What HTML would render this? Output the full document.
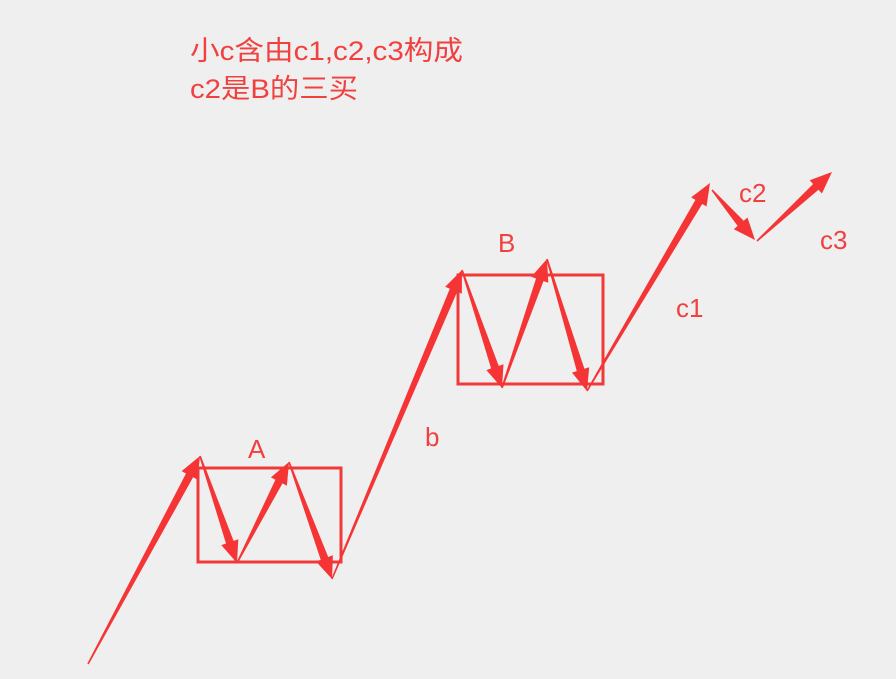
<!DOCTYPE html>
<html><head><meta charset="utf-8"><style>
html,body{margin:0;padding:0;background:#efefef;}
svg{display:block;}
text{font-family:"Liberation Sans","Noto Sans CJK SC",sans-serif;fill:#f0403f;}
</style></head><body>
<svg id="chart" width="896" height="679" viewBox="0 0 896 679">
<rect width="896" height="679" fill="#efefef"/>
<text x="190" y="60" font-size="27" textLength="273" lengthAdjust="spacingAndGlyphs">小c含由c1,c2,c3构成</text>
<text x="190" y="98" font-size="27" textLength="168" lengthAdjust="spacingAndGlyphs">c2是B的三买</text>
<rect x="198" y="468" width="143" height="94" fill="none" stroke="#f03a3a" stroke-width="3"/>
<rect x="458" y="275" width="145" height="109" fill="none" stroke="#f03a3a" stroke-width="3"/>
<g id="arrows"></g>
<text x="248" y="458" font-size="26">A</text>
<text x="498" y="252" font-size="26">B</text>
<text x="425" y="446" font-size="26">b</text>
<text x="676" y="317" font-size="26">c1</text>
<text x="739" y="202" font-size="26">c2</text>
<text x="820" y="249" font-size="26">c3</text>
</svg>
<script>
const segStartX=[88,200,237,289,332,462,502,547,587,712,757];
const segStartY=[664,456,563,462,579,270,388,259,391,190,241];
const segEndX=[200,237,289,332,462,502,547,587,710,755,832];
const segEndY=[456,563,462,579,270,388,259,391,183,240,172];
const segNames=['wave-lead-up','a-down-1','a-up','a-down-2','wave-b','b-down-1','b-up','b-down-2','wave-c1','wave-c2','wave-c3'];
const g=document.getElementById('arrows');
for(let i=0;i<segStartX.length;i++){
  const x0=segStartX[i],y0=segStartY[i],x1=segEndX[i],y1=segEndY[i];
  const dx=x1-x0,dy=y1-y0,L=Math.hypot(dx,dy),ux=dx/L,uy=dy/L,nx=-uy,ny=ux;
  const hl=Math.min(22,L*0.35),bw=4,hw=9,sw=0.8;
  const bx=x1-ux*hl,by=y1-uy*hl;
  const pts=[[x0+nx*sw,y0+ny*sw],[bx+nx*bw,by+ny*bw],[bx+nx*hw,by+ny*hw],[x1,y1],[bx-nx*hw,by-ny*hw],[bx-nx*bw,by-ny*bw],[x0-nx*sw,y0-ny*sw]];
  const p=document.createElementNS('http://www.w3.org/2000/svg','polygon');
  p.setAttribute('points',pts.map(q=>q[0].toFixed(1)+','+q[1].toFixed(1)).join(' '));
  p.setAttribute('fill','#f53535');
  
  
  g.appendChild(p);
}
</script>
</body></html>
